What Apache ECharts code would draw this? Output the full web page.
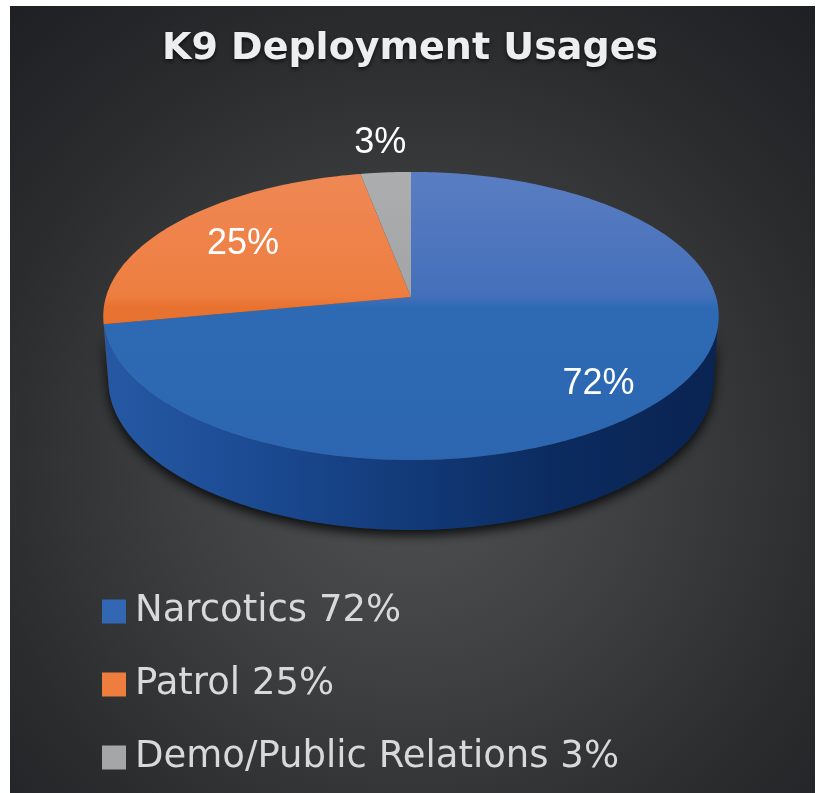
<!DOCTYPE html>
<html>
<head>
<meta charset="utf-8">
<script src="https://cdn.jsdelivr.net/npm/echarts@6/dist/echarts.min.js"></script>
<style>
  html, body { margin: 0; padding: 0; background: #fff; }
  #chart { width: 820px; height: 793px; }
</style>
</head>
<body>
<div id="chart"></div>
<script>
const categories = ['Narcotics', 'Patrol', 'Demo/Public Relations']
const values = [72, 25, 3]

// look of each slice
const flatColors = ['#3267B3', '#EE7E3E', '#A4A6A8']
const topColors = [
  ['#5A7DC2', '#4470BA', '#2E6AB4', '#2C66B0'],
  ['#EF8855', '#EE7E40', '#E8722F', '#E06A2A'],
  ['#ABADAF', '#A2A4A6', '#979A9D', '#8E9194'],
]
const wallColors = [
  ['#2659A4', '#1B4A92', '#123A78', '#0B2A5E', '#0A2452'],
  ['#B8561E', '#A94C19', '#8F3F14', '#7A3510', '#6A2E0E'],
  ['#7C7E80', '#717375', '#66686A', '#5C5E60', '#555759'],
]
const labelRadius = [0.74, 0.7, 1.25]
const labelShift = [[2, 16], [0, 0], [0, -3]]

// perspective of the tilted disc
const CX = 411
const CY = 297
const F = 2050
const D = 6.72
const S = 0.464
const C = 0.886
const DEPTH = 0.239

const total = values.reduce((a, b) => a + b, 0)

function proj(X, Y, Z) {
  const up = Y * S + Z * C
  const dep = D + Y * C - Z * S
  return [CX + F * X / dep, CY - F * up / dep]
}

function arcPts(a0, a1, Z) {
  const n = Math.max(2, Math.ceil((a1 - a0) / (Math.PI / 180)))
  const pts = []
  for (let k = 0; k <= n; k++) {
    const t = a0 + (a1 - a0) * k / n
    pts.push(proj(Math.sin(t), Math.cos(t), Z))
  }
  return pts
}

function makeRender(idx) {
  return function (params, api) {
    const before = values.slice(0, idx).reduce((a, b) => a + b, 0)
    const start = before / total * Math.PI * 2
    const end = start + api.value(0) / total * Math.PI * 2
    const children = []

    // only the front part of the rim faces the viewer
    const vis = Math.acos(C / D)
    const w0 = Math.max(start, Math.PI - vis)
    const w1 = Math.min(end, Math.PI + vis)
    if (w1 > w0) {
      const wc = wallColors[idx]
      children.push({
        type: 'polygon',
        z2: 1,
        shape: { points: arcPts(w0, w1, 0).concat(arcPts(w0, w1, -DEPTH).reverse()) },
        style: {
          fill: {
            type: 'linear', x: 104, y: 0, x2: 718, y2: 0, global: true,
            colorStops: wc.map((c, i) => ({ offset: i / (wc.length - 1), color: c })),
          },
          shadowBlur: 12,
          shadowOffsetY: 5,
          shadowColor: 'rgba(0,0,0,0.85)',
        },
      })
    }

    const tc = topColors[idx]
    children.push({
      type: 'polygon',
      z2: 5,
      shape: { points: [proj(0, 0, 0)].concat(arcPts(start, end, 0)) },
      style: {
        fill: {
          type: 'linear', x: 0, y: 172, x2: 0, y2: 460, global: true,
          colorStops: [
            { offset: 0, color: tc[0] },
            { offset: 0.43, color: tc[1] },
            { offset: 0.47, color: tc[2] },
            { offset: 1, color: tc[3] },
          ],
        },
      },
    })

    const mid = (start + end) / 2
    const r = labelRadius[idx]
    const lp = proj(r * Math.sin(mid), r * Math.cos(mid), 0)
    children.push({
      type: 'text',
      z2: 10,
      x: lp[0] + labelShift[idx][0],
      y: lp[1] + labelShift[idx][1],
      style: {
        text: api.value(0) + '%',
        fill: '#ffffff',
        font: '36px "Liberation Sans", Arial, sans-serif',
        align: 'center',
        verticalAlign: 'middle',
      },
    })

    return { type: 'group', children }
  }
}

const chart = echarts.init(document.getElementById('chart'))

chart.setOption({
  backgroundColor: '#ffffff',
  animation: false,
  graphic: [{
    type: 'rect',
    z: -10,
    shape: { x: 10, y: 6, width: 805, height: 787 },
    style: {
      fill: {
        type: 'radial', x: 0.5, y: 0.58, r: 0.78,
        colorStops: [
          { offset: 0, color: '#505153' },
          { offset: 0.35, color: '#3F4042' },
          { offset: 0.7, color: '#2A2C2E' },
          { offset: 1, color: '#1D1F22' },
        ],
      },
    },
  }],
  title: {
    text: 'K9 Deployment Usages',
    left: 'center',
    top: 25,
    textStyle: {
      color: '#EEEEEE',
      fontFamily: 'DejaVu Sans',
      fontWeight: 'bold',
      fontSize: 38,
      textShadowColor: 'rgba(0,0,0,0.7)',
      textShadowBlur: 4,
      textShadowOffsetY: 2,
    },
  },
  legend: {
    orient: 'vertical',
    left: 97,
    top: 588,
    icon: 'rect',
    itemWidth: 24,
    itemHeight: 24,
    itemGap: 36,
    selectedMode: false,
    data: categories,
    formatter: name => name + ' ' + values[categories.indexOf(name)] + '%',
    textStyle: {
      color: '#D9D9D9',
      fontFamily: 'DejaVu Sans',
      fontSize: 37,
      lineHeight: 37,
      padding: [0, 0, 0, 4],
    },
  },
  series: categories.map((name, idx) => ({
    type: 'custom',
    name,
    coordinateSystem: 'none',
    silent: true,
    itemStyle: { color: flatColors[idx] },
    renderItem: makeRender(idx),
    data: [[values[idx]]],
  })),
})
</script>
</body>
</html>
